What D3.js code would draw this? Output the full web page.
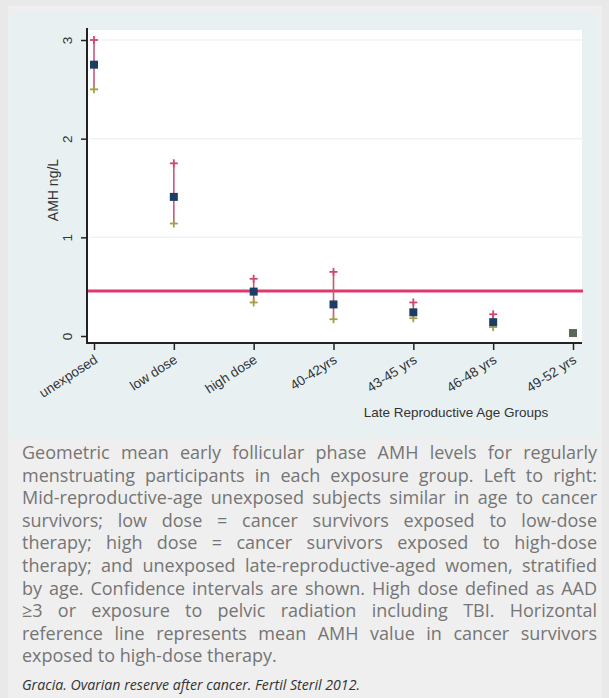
<!DOCTYPE html>
<html>
<head>
<meta charset="utf-8">
<script src="https://cdn.jsdelivr.net/npm/d3@7"></script>
<style>
  html, body { margin: 0; padding: 0; background: #e9e9e9; }
  svg { display: block; }
</style>
</head>
<body>
<div id="chart"></div>
<script>
// données
const groups = ["unexposed", "low dose", "high dose", "40-42yrs", "43-45 yrs", "46-48 yrs", "49-52 yrs"];
const means  = [2.75, 1.41, 0.45, 0.32, 0.24, 0.14, 0.03];
const upper  = [3.00, 1.75, 0.58, 0.65, 0.34, 0.22, null];
const lower  = [2.50, 1.14, 0.34, 0.17, 0.18, 0.09, null];
const refValue = 0.455;
const yTicks = [0, 1, 2, 3];

const captionLines = [
  "Geometric mean early follicular phase AMH levels for regularly",
  "menstruating participants in each exposure group. Left to right:",
  "Mid-reproductive-age unexposed subjects similar in age to cancer",
  "survivors; low dose = cancer survivors exposed to low-dose",
  "therapy; high dose = cancer survivors exposed to high-dose",
  "therapy; and unexposed late-reproductive-aged women, stratified",
  "by age. Confidence intervals are shown. High dose defined as AAD",
  "\u22653 or exposure to pelvic radiation including TBI. Horizontal",
  "reference line represents mean AMH value in cancer survivors",
  "exposed to high-dose therapy."
];
const citation = "Gracia. Ovarian reserve after cancer. Fertil Steril 2012.";

const W = 609, H = 698;
const svg = d3.select("#chart").append("svg")
  .attr("width", W).attr("height", H);

// fonds
svg.append("rect").attr("x", 8).attr("y", 6).attr("width", 594).attr("height", H - 6).attr("fill", "#efefef");
svg.append("rect").attr("x", 10).attr("y", 12).attr("width", 588).attr("height", 426).attr("fill", "#e9f0f1");

// zone du graphique
const plot = { left: 87, right: 582, top: 30, bottom: 343 };
svg.append("rect").attr("x", plot.left).attr("y", plot.top)
  .attr("width", plot.right - plot.left).attr("height", plot.bottom - plot.top)
  .attr("fill", "#ffffff");

const xScale = d3.scalePoint().domain(groups).range([94, 573]);
const yScale = d3.scaleLinear().domain([0, 3]).range([336, 40]);

// grille
svg.append("g").selectAll("line").data(yTicks.filter(d => d > 0)).enter()
  .append("line")
  .attr("x1", plot.left + 2).attr("x2", plot.right)
  .attr("y1", d => yScale(d)).attr("y2", d => yScale(d))
  .attr("stroke", "#eef3f3").attr("stroke-width", 1.5);

// axe Y
const yAxis = svg.append("g")
  .attr("transform", "translate(" + plot.left + ",0)")
  .call(d3.axisLeft(yScale).tickValues(yTicks).tickSize(6).tickSizeOuter(0).tickFormat(d3.format("d")));
yAxis.select(".domain").remove();
yAxis.selectAll(".tick line").attr("stroke", "#222").attr("stroke-width", 1.5);
yAxis.selectAll(".tick text")
  .attr("x", 0).attr("dy", 0)
  .attr("transform", "translate(-15,0) rotate(-90)")
  .attr("text-anchor", "middle")
  .style("font-family", "Liberation Sans, Arial, sans-serif")
  .style("font-size", "13.5px")
  .attr("fill", "#333");
svg.append("line")
  .attr("x1", plot.left).attr("x2", plot.left)
  .attr("y1", plot.top - 2).attr("y2", plot.bottom + 1)
  .attr("stroke", "#222").attr("stroke-width", 2);

svg.append("text")
  .attr("transform", "translate(58,190) rotate(-90)")
  .attr("text-anchor", "middle")
  .style("font-family", "Liberation Sans, Arial, sans-serif")
  .style("font-size", "14px")
  .attr("fill", "#333")
  .text("AMH ng/L");

// axe X
const xAxis = svg.append("g")
  .attr("transform", "translate(0," + plot.bottom + ")")
  .call(d3.axisBottom(xScale).tickSize(7).tickSizeOuter(0));
xAxis.select(".domain").remove();
xAxis.selectAll(".tick line").attr("stroke", "#222").attr("stroke-width", 1.5);
xAxis.selectAll(".tick text")
  .attr("y", 0).attr("dy", 0)
  .attr("transform", "translate(4,19) rotate(-33)")
  .attr("text-anchor", "end")
  .style("font-family", "Liberation Sans, Arial, sans-serif")
  .style("font-size", "13.5px")
  .attr("fill", "#2f3438");
svg.append("line")
  .attr("x1", plot.left - 1).attr("x2", plot.right)
  .attr("y1", plot.bottom).attr("y2", plot.bottom)
  .attr("stroke", "#222").attr("stroke-width", 2);

svg.append("text")
  .attr("x", 456).attr("y", 417)
  .attr("text-anchor", "middle")
  .style("font-family", "Liberation Sans, Arial, sans-serif")
  .style("font-size", "13.5px")
  .attr("fill", "#333")
  .text("Late Reproductive Age Groups");

// ligne de référence
svg.append("line")
  .attr("x1", plot.left + 1).attr("x2", plot.right + 1)
  .attr("y1", yScale(refValue)).attr("y2", yScale(refValue))
  .attr("stroke", "#e0386e").attr("stroke-width", 3);

// intervalles de confiance
const rows = groups.map((g, i) => ({ g: g, m: means[i], hi: upper[i], lo: lower[i] }));
const ci = rows.filter(d => d.hi !== null);

svg.append("g").selectAll("line").data(ci).enter()
  .append("line")
  .attr("x1", d => xScale(d.g)).attr("x2", d => xScale(d.g))
  .attr("y1", d => yScale(d.hi)).attr("y2", d => yScale(d.lo))
  .attr("stroke", "#c45a78").attr("stroke-width", 1.6);

function plus(sel, key, color) {
  const g = sel.append("g").selectAll("g").data(ci).enter().append("g")
    .attr("transform", d => "translate(" + xScale(d.g) + "," + yScale(d[key]) + ")");
  g.append("line").attr("x1", -4).attr("x2", 4).attr("y1", 0).attr("y2", 0)
    .attr("stroke", color).attr("stroke-width", 1.8);
  g.append("line").attr("x1", 0).attr("x2", 0).attr("y1", -4).attr("y2", 4)
    .attr("stroke", color).attr("stroke-width", 1.8);
}
plus(svg, "hi", "#d2486a");
plus(svg, "lo", "#a4a048");

// moyennes géométriques
svg.append("g").selectAll("rect").data(rows).enter()
  .append("rect")
  .attr("x", d => xScale(d.g) - 4).attr("y", d => yScale(d.m) - 4)
  .attr("width", 8).attr("height", 8)
  .attr("fill", d => d.hi === null ? "#5a6a55" : "#1e3d66");

// légende (texte justifié)
const capLeft = 22, capRight = 597, capTop = 459, lineH = 22.6;
const cap = svg.append("g")
  .style("font-family", "Open Sans, Noto Sans, sans-serif")
  .attr("fill", "#757575");

let fs = 18;
const probe = cap.append("text").style("font-size", fs + "px");
let maxW = 0;
captionLines.forEach(l => {
  probe.text(l);
  maxW = Math.max(maxW, probe.node().getComputedTextLength());
});
probe.remove();
fs = fs * Math.min(1, (capRight - capLeft) / (maxW + 6));

captionLines.forEach(function(l, i) {
  const y = capTop + i * lineH;
  const words = l.split(" ");
  const t = cap.append("text").attr("y", y).style("font-size", fs + "px");
  const spans = words.map(w => t.append("tspan").text(w));
  const widths = spans.map(s => s.node().getComputedTextLength());
  const total = d3.sum(widths);
  const last = i === captionLines.length - 1;
  const gap = last ? fs * 0.26 : (capRight - capLeft - total) / (words.length - 1);
  let x = capLeft;
  spans.forEach((s, j) => {
    s.attr("x", x).attr("y", y);
    x += widths[j] + gap;
  });
});

svg.append("text")
  .attr("x", capLeft).attr("y", 690)
  .attr("textLength", 338).attr("lengthAdjust", "spacingAndGlyphs")
  .style("font-family", "Open Sans, Noto Sans, sans-serif")
  .style("font-style", "italic")
  .style("font-size", "14px")
  .attr("fill", "#333")
  .text(citation);
</script>
</body>
</html>
